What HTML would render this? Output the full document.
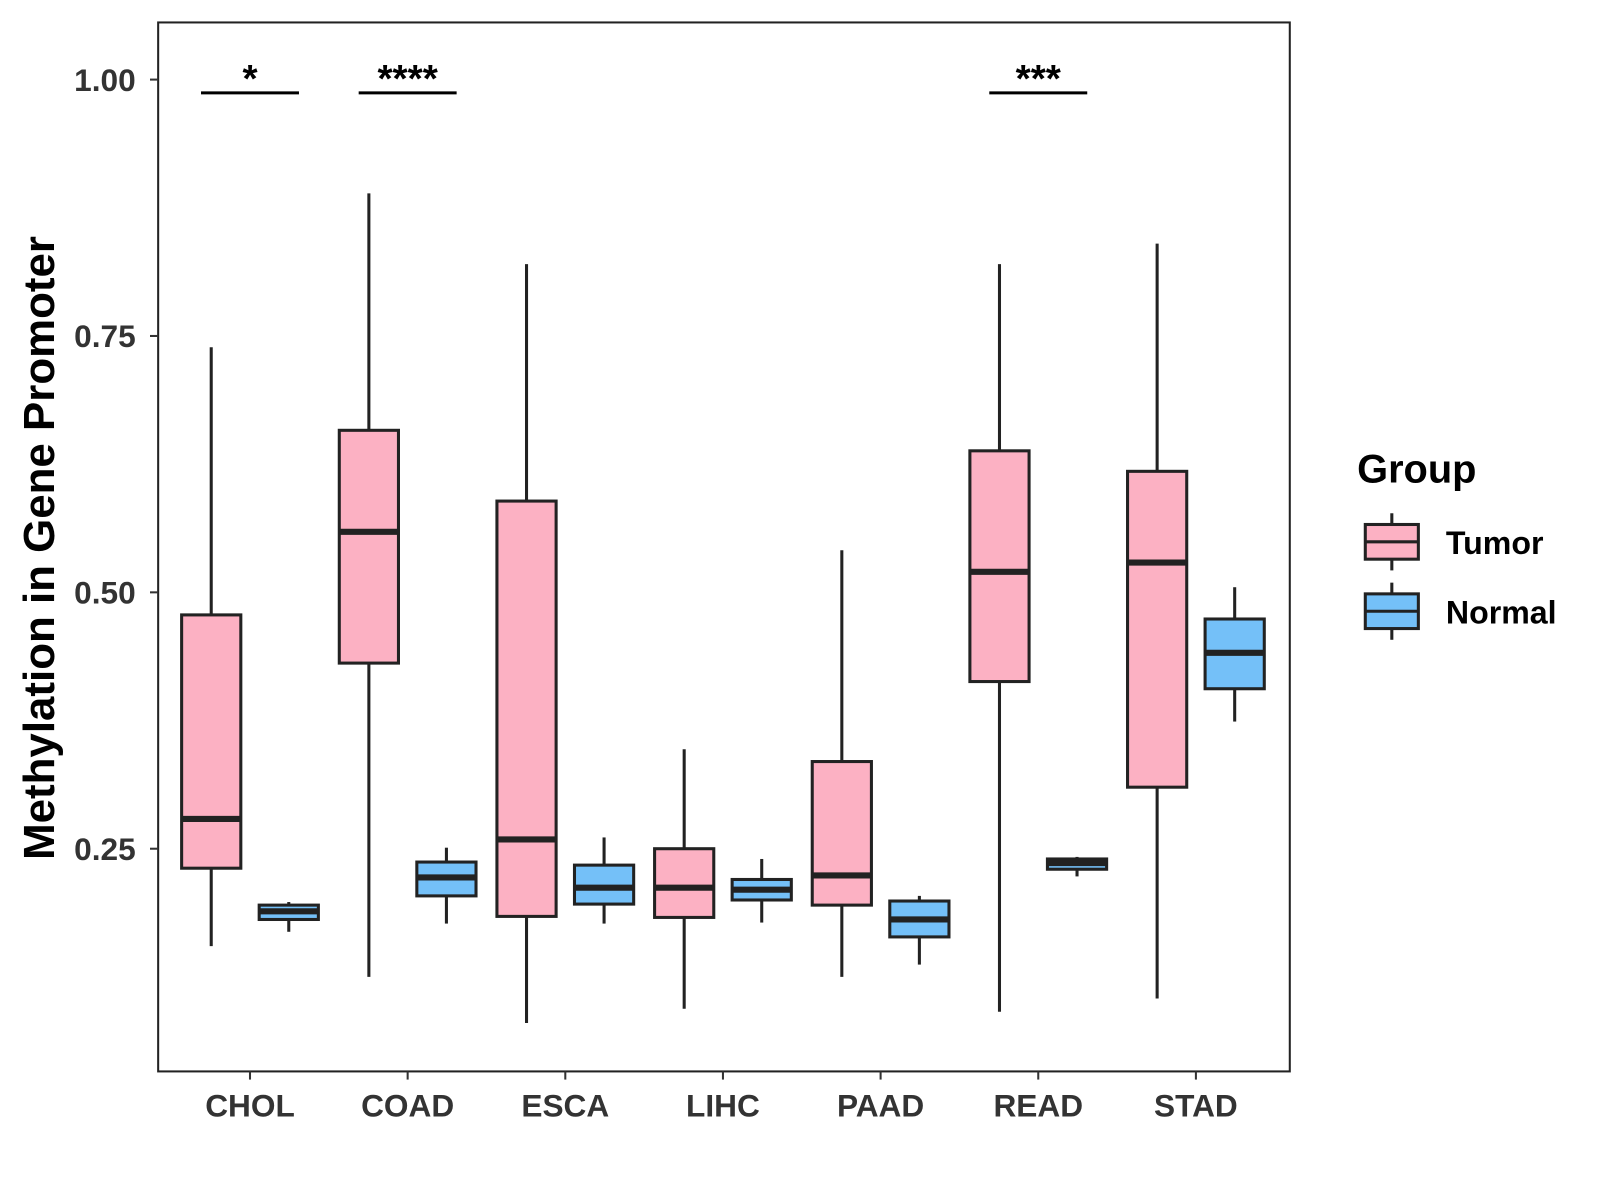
<!DOCTYPE html>
<html><head><meta charset="utf-8"><style>
html,body{margin:0;padding:0;background:#fff;}
svg{display:block;font-family:"Liberation Sans",Arial,sans-serif;}
</style></head><body>
<svg id="chart" width="1600" height="1200" viewBox="0 0 1600 1200">
<g transform="scale(1.0204)">
<rect x="155" y="22" width="1109" height="1028" fill="#fff" stroke="#222" stroke-width="2"/>
<g id="marks"></g>
<g id="axes"></g>
<text transform="translate(53,537) rotate(-90)" text-anchor="middle" font-size="43" font-weight="bold" fill="#000">Methylation in Gene Promoter</text>
<g>
<text x="1330" y="473" font-size="39" font-weight="bold" fill="#000">Group</text>
<g>
<line x1="1364" y1="503" x2="1364" y2="559" stroke="#222" stroke-width="3"/>
<rect x="1338" y="514" width="52" height="34" fill="#FCB1C3" stroke="#222" stroke-width="3"/>
<line x1="1338" y1="531" x2="1390" y2="531" stroke="#222" stroke-width="3"/>
<text x="1417" y="543" font-size="31.5" font-weight="bold" fill="#000">Tumor</text>
</g>
<g>
<line x1="1364" y1="571" x2="1364" y2="627" stroke="#222" stroke-width="3"/>
<rect x="1338" y="582" width="52" height="34" fill="#74C0F8" stroke="#222" stroke-width="3"/>
<line x1="1338" y1="599" x2="1390" y2="599" stroke="#222" stroke-width="3"/>
<text x="1417" y="611" font-size="31.5" font-weight="bold" fill="#000">Normal</text>
</g>
</g>
</g>
</svg>
<script>
const categories = ["CHOL","COAD","ESCA","LIHC","PAAD","READ","STAD"];
// [lowWhisker, Q1, median, Q3, highWhisker]
const tumorStats = [
 [0.155,0.231,0.279,0.478,0.739],
 [0.125,0.431,0.559,0.658,0.889],
 [0.080,0.184,0.259,0.589,0.820],
 [0.094,0.183,0.212,0.250,0.347],
 [0.125,0.195,0.224,0.335,0.541],
 [0.091,0.413,0.520,0.638,0.820],
 [0.104,0.310,0.529,0.618,0.840]
];
const normalStats = [
 [0.169,0.181,0.189,0.195,0.198],
 [0.177,0.204,0.222,0.237,0.251],
 [0.177,0.196,0.212,0.234,0.261],
 [0.178,0.200,0.210,0.220,0.240],
 [0.137,0.164,0.181,0.199,0.204],
 [0.223,0.230,0.236,0.240,0.242],
 [0.374,0.406,0.441,0.474,0.505]
];
const yTicks = [0.25,0.50,0.75,1.00];
const yTickLabels = ["0.25","0.50","0.75","1.00"];
const sigCategories = ["CHOL","COAD","READ"];
const sigLabels = ["*","****","***"];

const NS="http://www.w3.org/2000/svg";
function yScale(v){return 78+(1-v)*1005;}
function xScale(i){return 245+i*154.5;}
function mk(tag,attrs,parent){const e=document.createElementNS(NS,tag);for(const k in attrs)e.setAttribute(k,attrs[k]);parent.appendChild(e);return e;}
const marks=document.getElementById('marks'), axes=document.getElementById('axes');
function drawBox(cx,s,fill,name){
  const g=mk('g',{},marks);
  
  
  const w=58;
  mk('line',{x1:cx,x2:cx,y1:yScale(s[4]),y2:yScale(s[3]),stroke:'#222','stroke-width':3},g);
  mk('line',{x1:cx,x2:cx,y1:yScale(s[1]),y2:yScale(s[0]),stroke:'#222','stroke-width':3},g);
  mk('rect',{x:cx-w/2,y:yScale(s[3]),width:w,height:Math.max(1,yScale(s[1])-yScale(s[3])),fill:fill,stroke:'#222','stroke-width':3},g);
  mk('line',{x1:cx-w/2,x2:cx+w/2,y1:yScale(s[2]),y2:yScale(s[2]),stroke:'#222','stroke-width':6},g);
}
categories.forEach((c,i)=>{
  const cx=xScale(i);
  drawBox(cx-38,tumorStats[i],'#FCB1C3','box-tumor-'+c.toLowerCase());
  drawBox(cx+38,normalStats[i],'#74C0F8','box-normal-'+c.toLowerCase());
  mk('line',{x1:cx,x2:cx,y1:1050,y2:1058,stroke:'#333','stroke-width':2},axes);
  const t=mk('text',{x:cx,y:1094,'text-anchor':'middle','font-size':31,'font-weight':'bold',fill:'#333'},axes);
  t.textContent=c;
  
  
});
yTicks.forEach((v,i)=>{
  const y=yScale(v);
  mk('line',{x1:147,x2:155,y1:y,y2:y,stroke:'#333','stroke-width':2},axes);
  const t=mk('text',{x:133,y:y+11,'text-anchor':'end','font-size':31,'font-weight':'bold',fill:'#333'},axes);
  t.textContent=yTickLabels[i];
  
  
});
sigCategories.forEach((c,i)=>{
  const cx=xScale(categories.indexOf(c));
  const g=mk('g',{},marks);
  
  
  mk('line',{x1:cx-48,x2:cx+48,y1:91,y2:91,stroke:'#000','stroke-width':3},g);
  const t=mk('text',{x:cx,y:90,'text-anchor':'middle','font-size':38,'font-weight':'bold',fill:'#000'},g);
  t.textContent=sigLabels[i];
});
</script>
</body></html>
